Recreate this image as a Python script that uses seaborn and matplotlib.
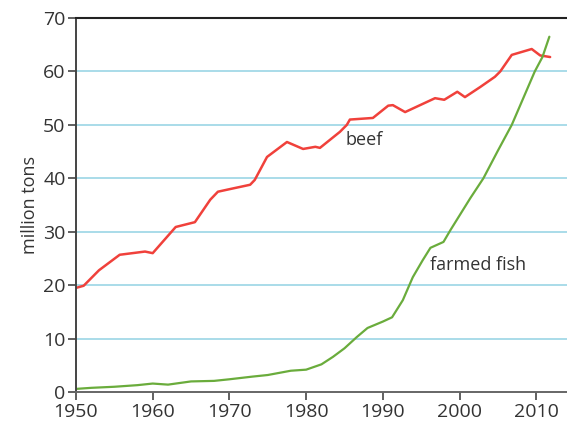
import numpy as np
import pandas as pd
import matplotlib.pyplot as plt
import seaborn as sns

# --- datos ---
beef_years = [1950, 1951, 1953, 1955.7, 1959, 1960, 1963, 1965.5, 1967.5, 1968.5, 1970.1, 1972.7,
              1973.3, 1974.9, 1977.5, 1979.6, 1981.2, 1981.8, 1984.4, 1985.3, 1985.7, 1988.7,
              1990.7, 1991.3, 1992.9, 1996.8, 1998, 1999.7, 2000.7, 2002.7, 2004.6, 2005.3,
              2006.8, 2009.4, 2010.5, 2011.8]
beef_values = [19.5, 19.9, 22.8, 25.7, 26.3, 26.0, 30.9, 31.8, 36.0, 37.5, 38.0, 38.8,
               39.7, 44.0, 46.8, 45.5, 45.9, 45.7, 48.7, 50.0, 51.0, 51.3,
               53.6, 53.7, 52.4, 55.0, 54.7, 56.2, 55.2, 57.1, 59.0, 60.0,
               63.1, 64.2, 63.0, 62.7]

fish_years = [1950, 1952, 1955, 1958, 1960, 1962, 1965, 1968, 1970, 1973, 1975, 1978, 1980,
              1982, 1983.5, 1985, 1986.6, 1988, 1990, 1991.2, 1992.6, 1993.9, 1995.2, 1996.2,
              1997.9, 1998.8, 2001.4, 2003.1, 2005.0, 2006.8, 2008.3, 2009.8, 2010.8, 2011.7]
fish_values = [0.6, 0.8, 1.0, 1.3, 1.6, 1.4, 2.0, 2.1, 2.4, 2.9, 3.2, 4.0, 4.2,
               5.2, 6.6, 8.2, 10.3, 12.0, 13.2, 14.0, 17.2, 21.5, 24.7, 27.0,
               28.1, 30.3, 36.3, 40.0, 45.2, 50.0, 55.0, 60.0, 62.7, 66.5]

y_ticks = [0, 10, 20, 30, 40, 50, 60, 70]
x_ticks = [1950, 1960, 1970, 1980, 1990, 2000, 2010]

df_beef = pd.DataFrame({'year': beef_years, 'tons': beef_values})
df_fish = pd.DataFrame({'year': fish_years, 'tons': fish_values})

sns.set_style('white')
plt.rcParams['font.family'] = ['Open Sans', 'DejaVu Sans']

fig = plt.figure(figsize=(5.67, 4.29), dpi=100)
ax = fig.add_axes([0.134, 0.086, 0.866, 0.872])

# lineas de cuadricula horizontales (azul claro)
for v in y_ticks[1:-1]:
    ax.axhline(v, color='#a9dce9', lw=1.4, zorder=0)

sns.lineplot(data=df_beef, x='year', y='tons', color='#f0413b', lw=1.8, ax=ax)
sns.lineplot(data=df_fish, x='year', y='tons', color='#6aac3c', lw=1.6, ax=ax)

ax.text(1985.1, 47.2, 'beef', fontsize=13, color='#333333', va='center')
ax.text(1996.2, 23.8, 'farmed fish', fontsize=13, color='#333333', va='center')

ax.set_xlim(1950, 2014)
ax.set_ylim(0, 70)
ax.set_xticks(x_ticks)
ax.set_yticks(y_ticks)
ax.tick_params(axis='both', labelsize=14, colors='#444444', labelcolor='#333333',
               direction='out', length=5.5, width=1.2, bottom=True, left=True, pad=2)
ax.set_xlabel('')
ax.set_ylabel('million tons', fontsize=13, color='#333333', labelpad=3)

ax.spines['right'].set_visible(False)
ax.spines['top'].set_color('#222222')
ax.spines['top'].set_linewidth(1.5)
ax.spines['left'].set_color('#444444')
ax.spines['left'].set_linewidth(1.4)
ax.spines['bottom'].set_color('#666666')
ax.spines['bottom'].set_linewidth(1.4)

plt.savefig('out.png', dpi=100)
